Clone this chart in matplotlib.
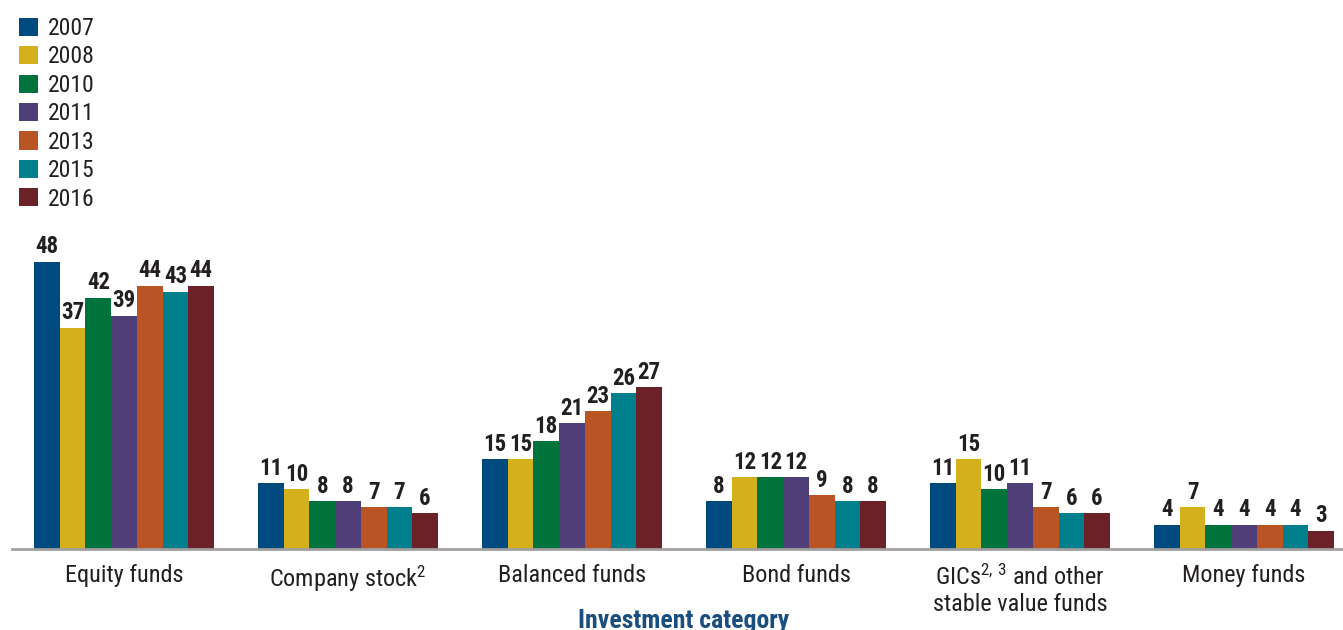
import numpy as np
import matplotlib
matplotlib.use("Agg")
from matplotlib import pyplot as plt
from matplotlib.patches import Patch
from matplotlib import font_manager as fm

# fonte estreita, se houver
names = {f.name for f in fm.fontManager.ttflist}
narrow = [n for n in ["Liberation Sans Narrow", "Roboto Condensed", "Open Sans Condensed",
                      "DejaVu Sans Condensed"] if n in names]
cond = any(f.name == "DejaVu Sans" and f.stretch in ("condensed", 700) for f in fm.fontManager.ttflist)
plt.rcParams['font.family'] = narrow[:1] + ['DejaVu Sans']
plt.rcParams['font.stretch'] = 'condensed' if cond else 'normal'
plt.rcParams['mathtext.default'] = 'regular'
small = 0 if (narrow or cond) else 1

# Dados
categories = ["Equity funds", "Company stock$^{2}$", "Balanced funds", "Bond funds",
              "GICs$^{2,\\,3}$ and other\nstable value funds", "Money funds"]
years = ["2007", "2008", "2010", "2011", "2013", "2015", "2016"]
colors = ["#004a80", "#d4b11c", "#00733d", "#4f3f78", "#b95424", "#007f8c", "#6a2128"]

v2007 = [48, 11, 15, 8, 11, 4]
v2008 = [37, 10, 15, 12, 15, 7]
v2010 = [42, 8, 18, 12, 10, 4]
v2011 = [39, 8, 21, 12, 11, 4]
v2013 = [44, 7, 23, 9, 7, 4]
v2015 = [43, 7, 26, 8, 6, 4]
v2016 = [44, 6, 27, 8, 6, 3]
series = [v2007, v2008, v2010, v2011, v2013, v2015, v2016]

fig = plt.figure(figsize=(13.43, 6.3), dpi=100)
ax = fig.add_axes([12 / 1343, 81 / 630, 1 - 12 / 1343, 329 / 630])

x = np.arange(len(categories))
w = 0.8036 / len(years)
for i, (vals, c) in enumerate(zip(series, colors)):
    pos = x + (i - 3) * w
    bars = ax.bar(pos, vals, width=w, color=c, linewidth=0)
    for b, v in zip(bars, vals):
        ax.text(b.get_x() + b.get_width() / 2, v + 0.6, str(v), ha="center", va="bottom",
                fontsize=16.5 - 3.5 * small, fontweight="bold", color="#231f20")

ax.set_xlim(-0.5, 5.5 - 13 / 224)
ax.set_ylim(0, 55)
ax.set_yticks([])
ax.set_xticks(x)
ax.set_xticklabels(categories, fontsize=17.5 - 3 * small, color="#231f20", linespacing=1.2)
ax.tick_params(axis="x", length=0, pad=11)
for s in ["top", "right", "left"]:
    ax.spines[s].set_visible(False)
ax.spines["bottom"].set_color("#a0a0a0")
ax.spines["bottom"].set_linewidth(2)

fig.text(0.509, 1 - 609 / 630, "Investment category", ha="center", va="top",
         fontsize=18.5 - 3 * small, fontweight="bold", color="#1a4e7f")

handles = [Patch(facecolor=c, edgecolor="none") for c in colors]
fig.legend(handles, years, loc="upper left", bbox_to_anchor=(0.007, 0.988), frameon=False,
           fontsize=17 - 2.5 * small, handlelength=0.8, handleheight=0.8, handletextpad=0.45,
           labelspacing=0.23 + 0.12 * small, borderaxespad=0, labelcolor="#231f20")

plt.savefig("out.png", dpi=100)
